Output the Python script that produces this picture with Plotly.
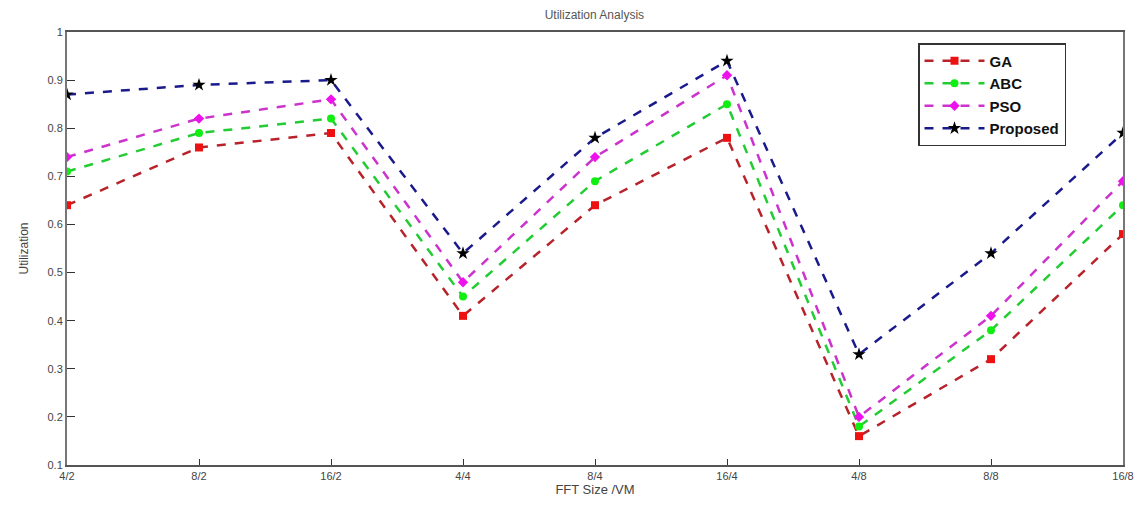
import plotly.graph_objects as go

categories = ["4/2", "8/2", "16/2", "4/4", "8/4", "16/4", "4/8", "8/8", "16/8"]
ga = [0.64, 0.76, 0.79, 0.41, 0.64, 0.78, 0.16, 0.32, 0.58]
abc = [0.71, 0.79, 0.82, 0.45, 0.69, 0.85, 0.18, 0.38, 0.64]
pso = [0.74, 0.82, 0.86, 0.48, 0.74, 0.91, 0.20, 0.41, 0.69]
proposed = [0.87, 0.89, 0.90, 0.54, 0.78, 0.94, 0.33, 0.54, 0.79]

series = [
    ("GA", ga, "#b8232b", "#ee1111", "square", 8),
    ("ABC", abc, "#22cc33", "#11ee11", "circle", 8),
    ("PSO", pso, "#cc33cc", "#ee11ee", "diamond", 8),
    ("Proposed", proposed, "#1a1a8c", "#000000", "star", 10),
]

x = list(range(len(categories)))
fig = go.Figure()
for name, vals, lc, mc, sym, ms in series:
    fig.add_trace(go.Scatter(
        x=x, y=vals, name=name, mode="lines+markers",
        line=dict(color=lc, width=2.5, dash="dash"),
        marker=dict(color=mc, symbol=sym, size=ms),
    ))

fig.update_layout(
    width=1143, height=506,
    margin=dict(l=67, r=20, t=32, b=41),
    paper_bgcolor="white", plot_bgcolor="white",
    font=dict(family="Liberation Sans, Arial, sans-serif", size=11, color="#444"),
    title=dict(text="Utilization Analysis", x=0.52, xanchor="center", y=1 - 15 / 506, yanchor="middle",
               font=dict(size=12, color="#555")),
    showlegend=True,
    legend=dict(x=(918 - 67) / 1056, y=1 - 11 / 433, xanchor="left", yanchor="top",
                bgcolor="white", bordercolor="#333", borderwidth=1.5,
                font=dict(size=15, color="#111", family="Liberation Sans, Arial, sans-serif", weight="bold"),
                tracegroupgap=0, itemwidth=60),
)
fig.update_xaxes(
    range=[0, len(categories) - 1], tickvals=x, ticktext=categories,
    showgrid=False, zeroline=False, showline=True, linecolor="#555", linewidth=2,
    mirror=True, ticks="inside", ticklen=6, tickcolor="#333", automargin=False,
    ticklabeloverflow="allow",
    title=dict(text="FFT Size /VM", standoff=4, font=dict(size=13, color="#444")),
)
fig.update_yaxes(
    range=[0.1, 1.0], tickvals=[0.1, 0.2, 0.3, 0.4, 0.5, 0.6, 0.7, 0.8, 0.9, 1.0],
    ticktext=["0.1", "0.2", "0.3", "0.4", "0.5", "0.6", "0.7", "0.8", "0.9", "1"],
    showgrid=False, zeroline=False, showline=True, linecolor="#777", linewidth=2,
    mirror=True, ticks="inside", ticklen=8, tickcolor="#333", automargin=False,
    title=dict(text="Utilization", standoff=16, font=dict(size=12, color="#444")),
)

fig.write_html("out.html", config={"displayModeBar": False},
               post_script="document.body.style.margin='0';")
